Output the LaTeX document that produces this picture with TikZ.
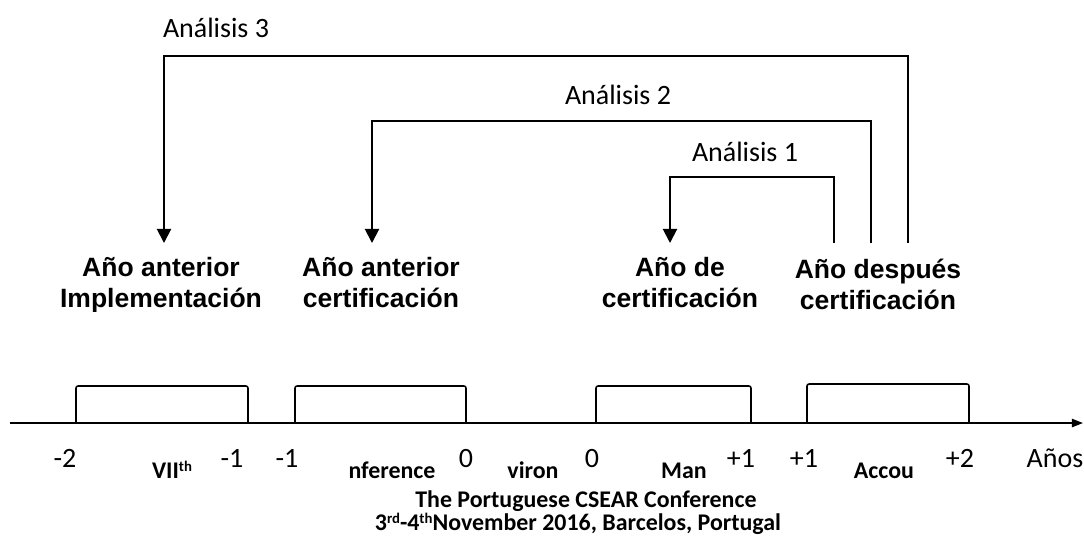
\documentclass[tikz,border=0pt]{standalone}
\usepackage{fontspec}
\setmainfont{Carlito}
\newfontfamily\arialfont{Liberation Sans}
\usetikzlibrary{arrows.meta}
\newcommand{\supind}[1]{\raisebox{0.55ex}{\fontsize{10.5}{10.5}\selectfont #1}}

\begin{document}
\begin{tikzpicture}[x=0.025cm, y=-0.025cm,
    conn/.style={line width=1.4pt},
    arr/.style={conn, -{Triangle[length=10pt, width=10pt]}},
    analisis/.style={font=\fontsize{19.9}{24}\selectfont, inner sep=0pt, anchor=base},
    periodo/.style={font=\arialfont\bfseries\fontsize{18.85}{22}\selectfont, align=center, inner sep=0pt, anchor=base},
    marca/.style={font=\fontsize{19.9}{24}\selectfont, inner sep=0pt, anchor=base},
    pie/.style={font=\bfseries\fontsize{17}{13.5}\selectfont, inner sep=0pt, anchor=base}]
    \useasboundingbox (0,0) rectangle (1084,541);

    % periodos
    \begin{scope}
        \clip (0,0) rectangle (1084,311);
        \node [periodo] (p1) at (161,307) {Año anterior\\Implementación};
        \node [periodo] (p2) at (381,307) {Año anterior\\certificación};
        \node [periodo] (p3) at (680,307) {Año de\\certificación};
        \node [periodo] (p4) at (878,309) {Año después\\certificación};
    \end{scope}

    % analisis
    \node [analisis] (an3) at (216,37) {Análisis 3};
    \node [analisis] (an2) at (618,104) {Análisis 2};
    \node [analisis] (an1) at (745,161) {Análisis 1};

    \coordinate (s3) at (908,243);  \coordinate (k3) at (908,56);  \coordinate (t3) at (164,243);
    \coordinate (s2) at (871,243);  \coordinate (k2) at (871,121); \coordinate (t2) at (372,243);
    \coordinate (s1) at (834,243);  \coordinate (k1) at (834,177); \coordinate (t1) at (670,243);
    \draw [arr] (s3) -- (k3) -| (t3);
    \draw [arr] (s2) -- (k2) -| (t2);
    \draw [arr] (s1) -- (k1) -| (t1);

    % eje
    \coordinate (e0) at (10,423);
    \coordinate (e1) at (1083,423);
    \draw [line width=1.1pt, -{Triangle[length=8pt, width=6pt]}] (e0) -- (e1);
    \foreach \a/\b/\t in {76/248/386, 295/466/386, 596/751/386, 807/969/384}
        \draw [line width=1.1pt, rounded corners=1.5pt] (\a,423) -- (\a,\t) -- (\b,\t) -- (\b,423);

    % pie de pagina
    \node [pie] (f1) at (172,478) {VII\supind{th}};
    \node [pie] (f2) at (392,478) {nference};
    \node [pie] (f3) at (533,478) {viron};
    \node [pie] (f4) at (684,478) {Man};
    \node [pie] (f5) at (884,478) {Accou};
    \node [pie] (f6) at (586,507) {The Portuguese CSEAR Conference};
    \node [pie] (f7) at (578,530) {3\supind{rd}-4\supind{th}November 2016, Barcelos, Portugal};

    \foreach \x/\n in {65/-2, 232/-1, 287/-1, 466/0, 592/0, 741/+1, 804/+1, 960/+2}
        \node [marca] at (\x,467) {\n};
    \node [marca] (anos) at (1055,467) {Años};
\end{tikzpicture}
\end{document}
